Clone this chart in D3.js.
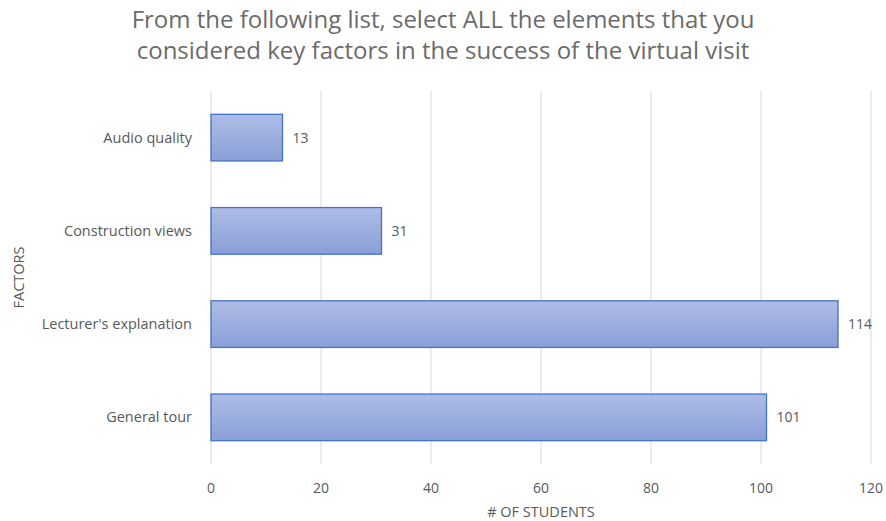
<!DOCTYPE html>
<script src="https://d3js.org/d3.v7.min.js"></script>
<style>
  body { margin: 0; background: #fff; }
  text { font-family: "Open Sans", "Liberation Sans", sans-serif; fill: #595959; }
</style>
<svg width="886" height="521"></svg>
<script>

    // chart data
    const factors = ["Audio quality", "Construction views", "Lecturer's explanation", "General tour"];
    const students = [13, 31, 114, 101];
    const xTicks = [0, 20, 40, 60, 80, 100, 120];
    const titleLines = ["From the following list, select ALL the elements that you",
        "considered key factors in the success of the virtual visit"];

    const svg = d3.select("svg");
    const plotLeft = 211, plotRight = 871, plotTop = 91, plotBottom = 464;

    const x = d3.scaleLinear().domain([0, 120]).range([plotLeft, plotRight]);
    const y = d3.scaleBand().domain(factors).range([plotTop, plotBottom])
        .paddingInner(0.5).paddingOuter(0.25);

    // gradient for the bars
    const grad = svg.append("defs").append("linearGradient")
        .attr("id", "barGrad")
        .attr("x1", 0).attr("y1", 0).attr("x2", 0).attr("y2", 1);
    grad.append("stop").attr("offset", "0%").attr("stop-color", "#aebde6");
    grad.append("stop").attr("offset", "100%").attr("stop-color", "#8a9fd8");

    // title
    svg.append("g").selectAll("text")
        .data(titleLines)
        .enter()
        .append("text")
        .attr("x", 443)
        .attr("y", (d, i) => 28 + i * 31)
        .attr("text-anchor", "middle")
        .style("font-size", "24px")
        .style("fill", "#6b6b6b")
        .text(d => d);

    // vertical gridlines
    svg.append("g").selectAll("line")
        .data(xTicks)
        .enter()
        .append("line")
        .attr("x1", d => x(d)).attr("x2", d => x(d))
        .attr("y1", plotTop).attr("y2", plotBottom)
        .attr("stroke", "#d9d9d9")
        .attr("stroke-width", 1);

    // x tick labels
    svg.append("g").selectAll("text")
        .data(xTicks)
        .enter()
        .append("text")
        .attr("x", d => x(d))
        .attr("y", 493)
        .attr("text-anchor", "middle")
        .style("font-size", "14px")
        .text(d => d);

    // bars
    const rows = factors.map((f, i) => ({factor: f, value: students[i]}));

    svg.append("g").selectAll("rect")
        .data(rows)
        .enter()
        .append("rect")
        .attr("x", x(0))
        .attr("y", d => y(d.factor))
        .attr("width", d => x(d.value) - x(0))
        .attr("height", y.bandwidth())
        .attr("fill", "url(#barGrad)")
        .attr("stroke", "#4472c4")
        .attr("stroke-width", 1.3);

    // value labels
    svg.append("g").selectAll("text")
        .data(rows)
        .enter()
        .append("text")
        .attr("x", d => x(d.value) + 10)
        .attr("y", d => y(d.factor) + y.bandwidth() / 2)
        .attr("dy", "0.35em")
        .style("font-size", "14px")
        .text(d => d.value);

    // category labels
    svg.append("g").selectAll("text")
        .data(factors)
        .enter()
        .append("text")
        .attr("x", 192)
        .attr("y", d => y(d) + y.bandwidth() / 2)
        .attr("dy", "0.35em")
        .attr("text-anchor", "end")
        .style("font-size", "14.5px")
        .text(d => d);

    // axis titles
    svg.append("text")
        .attr("x", x(60))
        .attr("y", 517)
        .attr("text-anchor", "middle")
        .style("font-size", "14.5px")
        .text("# OF STUDENTS");

    svg.append("text")
        .attr("transform", "translate(24," + ((plotTop + plotBottom) / 2) + ") rotate(-90)")
        .attr("text-anchor", "middle")
        .style("font-size", "14.5px")
        .text("FACTORS");

</script>
